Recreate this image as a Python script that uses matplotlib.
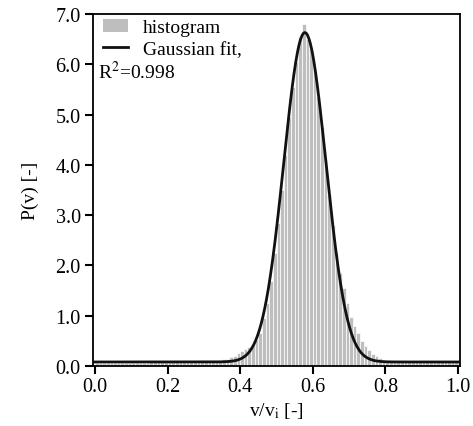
import numpy as np
import matplotlib
matplotlib.use("Agg")
import matplotlib.pyplot as plt
from matplotlib.patches import Patch
from matplotlib.lines import Line2D

plt.rcParams.update({"font.family": "Liberation Serif", "mathtext.fontset": "stix",
                     "font.size": 14})

# histogram: 100 bins of width 0.01 on [0, 1], heights
bin_edges = np.linspace(0.0, 1.0, 101)
hist_heights = [
    0.06, 0.06, 0.06, 0.06, 0.06, 0.06, 0.06, 0.06, 0.06, 0.06,
    0.06, 0.06, 0.06, 0.06, 0.06, 0.07, 0.07, 0.08, 0.08, 0.08,
    0.08, 0.08, 0.09, 0.09, 0.09, 0.10, 0.10, 0.10, 0.11, 0.11,
    0.11, 0.12, 0.12, 0.12, 0.12, 0.13, 0.14, 0.17, 0.20, 0.25,
    0.30, 0.33, 0.38, 0.42, 0.52, 0.66, 0.95, 1.25, 1.70, 2.25,
    2.85, 3.50, 4.20, 4.95, 5.55, 6.05, 6.55, 6.80, 6.50, 6.30,
    5.90, 5.35, 4.75, 4.10, 3.40, 2.80, 2.25, 1.85, 1.55, 1.25,
    0.98, 0.80, 0.65, 0.50, 0.40, 0.32, 0.24, 0.19, 0.15, 0.12,
    0.10, 0.09, 0.09, 0.08, 0.08, 0.07, 0.07, 0.07, 0.07, 0.07,
    0.07, 0.07, 0.07, 0.07, 0.07, 0.07, 0.07, 0.07, 0.07, 0.07,
]

# Gaussian fit parameters (offset + amplitude * exp(-(x-mu)^2 / 2 sigma^2))
fit_mu, fit_sigma, fit_amp, fit_offset = 0.578, 0.058, 6.55, 0.08
r_squared = 0.998

fig = plt.figure(figsize=(4.73, 4.27), dpi=100)
ax = fig.add_axes([0.197, 0.1405, 0.7753, 0.8244])

left = bin_edges[:-1]
ax.bar(left, hist_heights, width=np.diff(bin_edges), align="edge",
       color="#bebebe", edgecolor="white", linewidth=0.5)

xs = np.linspace(0, 1, 600)
ys = fit_offset + fit_amp * np.exp(-(xs - fit_mu) ** 2 / (2 * fit_sigma ** 2))
ax.plot(xs, ys, color="#111111", lw=2.0)

ax.set_xlim(-0.005, 1.005)
ax.set_ylim(0, 7.0)
ax.set_xticks(np.arange(0, 1.01, 0.2))
ax.set_xticklabels([f"{v:.1f}" for v in np.arange(0, 1.01, 0.2)])
ax.set_yticks(np.arange(0, 7.01, 1.0))
ax.set_yticklabels([f"{v:.1f}" for v in np.arange(0, 7.01, 1.0)])
ax.tick_params(direction="out", length=6, width=1.5, top=False, right=False, pad=2)
ax.tick_params(axis="y", labelsize=14.5, pad=3)
ax.tick_params(axis="x", labelsize=14.5)
for s in ax.spines.values():
    s.set_linewidth(1.3)

ax.set_xlabel(r"v/v$_\mathrm{i}$ [-]", labelpad=3)
ax.set_ylabel("P(v) [-]", labelpad=12)

handles = [Patch(facecolor="#bebebe", edgecolor="none"),
           Line2D([], [], color="#111111", lw=2.0)]
ax.legend(handles, ["histogram", "Gaussian fit,"], loc="upper left", frameon=False,
          bbox_to_anchor=(0.0, 1.014), handlelength=1.3, handletextpad=0.75,
          borderaxespad=0.3, borderpad=0.2, labelspacing=0.2)
ax.text(0.012, 0.838, f"R$^2$={r_squared}", transform=ax.transAxes, ha="left", va="center")

fig.savefig("out.png", dpi=100)
